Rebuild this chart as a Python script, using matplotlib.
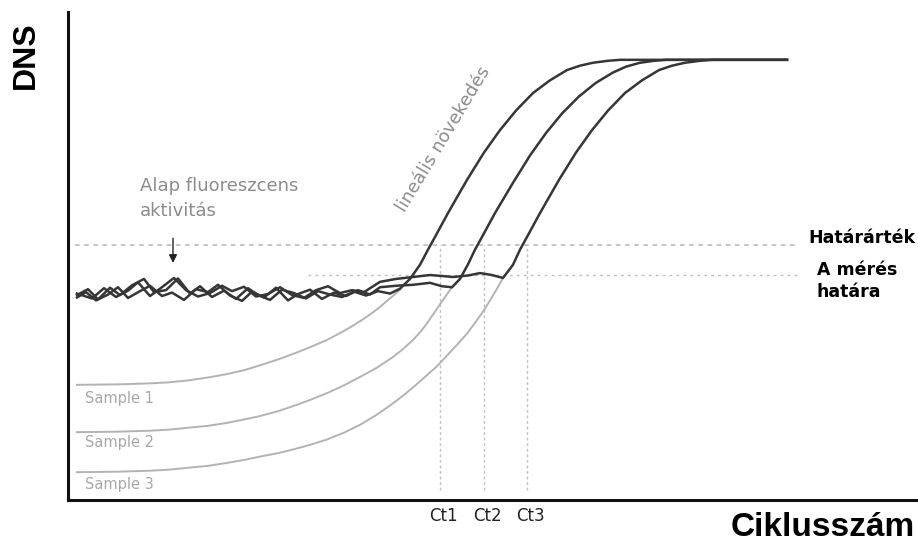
import matplotlib
matplotlib.use('Agg')
import matplotlib.pyplot as plt

# x: ciklus (arbitrary), y: DNS (arbitrary units, 0-100)
threshold = 52.3        # Határárték
detect_limit = 46.1     # A mérés határa
ct_values = [18.6, 20.8, 22.95]
ct_labels = ['Ct1', 'Ct2', 'Ct3']
sample_labels = ['Sample 1', 'Sample 2', 'Sample 3']
sample_label_y = [20.9, 11.7, 3.1]

# real signal below the background (light grey)
s1_low_x = [0.45, 2.5, 4.1, 5.0, 6.0, 7.0, 7.95, 8.8, 9.6, 10.5, 11.3, 12.1, 12.95,
            13.6, 14.2, 14.7, 15.1, 15.55, 15.95, 16.3, 16.6]
s1_low_y = [23.6, 23.7, 23.9, 24.1, 24.5, 25.1, 25.8, 26.6, 27.6, 28.8, 30.0, 31.3, 32.8,
            34.2, 35.6, 36.9, 38.0, 39.4, 40.8, 42.0, 43.1]
s2_low_x = [0.45, 2.5, 4.1, 5.0, 6.0, 7.0, 7.95, 8.8, 9.6, 10.5, 11.3, 12.1, 12.95, 13.7,
            14.5, 15.4, 16.25, 16.8, 17.3, 17.65, 17.95, 18.35, 18.75, 19.2]
s2_low_y = [13.9, 14.0, 14.2, 14.4, 14.8, 15.2, 15.8, 16.5, 17.2, 18.2, 19.3, 20.5, 21.9, 23.3,
            25.0, 27.0, 29.3, 31.1, 33.0, 34.6, 36.2, 38.6, 41.0, 43.6]
s3_low_x = [0.45, 2.5, 4.1, 5.0, 6.0, 7.0, 7.95, 8.8, 9.6, 10.5, 11.3, 12.1, 12.95, 13.8,
            14.6, 15.45, 16.25, 16.85, 17.4, 17.95, 18.45, 18.95, 19.45, 19.95, 20.35, 20.75,
            21.1, 21.45, 21.75]
s3_low_y = [5.7, 5.8, 6.0, 6.2, 6.6, 7.0, 7.6, 8.2, 8.9, 9.6, 10.4, 11.3, 12.4, 13.8,
            15.4, 17.5, 19.8, 21.7, 23.6, 25.6, 27.4, 29.6, 31.8, 34.1, 36.3, 38.6,
            40.9, 43.3, 45.5]

# measured signal: background noise
s1_noise_x = [0.45, 1.0, 1.5, 2.1, 2.6, 3.2, 3.8, 4.3, 4.9, 5.5, 6.1, 6.6, 7.2, 7.8, 8.4,
              9.0, 9.5, 10.1, 10.7, 11.3, 11.9, 12.5, 13.1, 13.7, 14.3, 14.9, 15.5, 16.1, 16.6]
s1_noise_y = [42.0, 43.2, 41.1, 43.5, 42.0, 44.0, 45.3, 42.6, 43.0, 45.4, 42.3, 43.8, 41.6, 42.9, 41.2,
              43.4, 42.0, 41.0, 43.1, 42.4, 41.3, 42.8, 42.1, 41.6, 42.7, 41.9, 42.8, 42.3, 43.3]
s2_noise_x = [0.45, 0.9, 1.4, 2.0, 2.5, 3.0, 3.6, 4.1, 4.7, 5.2, 5.8, 6.4, 7.0, 7.5, 8.1, 8.7,
              9.2, 9.8, 10.4, 11.0, 11.5, 12.1, 12.7, 13.3, 13.9, 14.5, 15.1, 15.6, 16.4, 17.25,
              18.1, 18.7, 19.2]
s2_noise_y = [41.5, 42.6, 40.9, 42.1, 43.6, 41.4, 42.8, 43.9, 41.8, 42.5, 41.0, 43.2, 42.6, 44.1, 41.9, 40.8,
              42.7, 41.5, 43.5, 40.9, 42.2, 43.1, 41.2, 42.5, 41.8, 43.0, 42.1, 43.6, 43.9, 44.1,
              44.5, 43.8, 43.6]
s3_noise_x = [0.45, 1.2, 1.8, 2.4, 3.0, 3.5, 4.1, 4.6, 5.3, 5.9, 6.5, 7.1, 7.7, 8.2, 8.8, 9.4,
              10.0, 10.6, 11.2, 11.8, 12.4, 13.0, 13.6, 14.2, 14.8, 15.6, 16.4, 17.25, 18.1, 18.7,
              19.25, 20.0, 20.6, 21.2, 21.75]
s3_noise_y = [42.3, 41.3, 43.4, 41.6, 42.9, 44.6, 41.8, 43.3, 45.5, 43.0, 41.7, 42.4, 43.9, 42.8, 43.7, 41.7,
              42.2, 43.6, 42.0, 41.4, 43.0, 43.8, 42.4, 43.0, 42.6, 44.7, 45.3, 45.7, 46.1, 45.9,
              45.7, 46.0, 46.5, 46.1, 45.5]

# measured signal: amplification and plateau
s1_rise_x = [17.1, 17.6, 18.0, 18.35, 19.0, 19.95, 20.8, 21.6, 22.4, 23.25, 24.1, 24.95, 25.6, 26.25,
             27.0, 27.6, 35.95]
s1_rise_y = [45.3, 48.2, 51.3, 53.9, 58.8, 65.6, 71.2, 75.8, 79.8, 83.4, 86.0, 88.1, 89.0, 89.6,
             90.0, 90.2, 90.2]
s2_rise_x = [19.6, 20.0, 20.35, 20.7, 21.35, 22.25, 23.1, 23.9, 24.7, 25.55, 26.4, 27.25, 27.9, 28.6,
             29.3, 29.9, 35.95]
s2_rise_y = [45.3, 48.3, 51.3, 53.9, 58.8, 65.0, 70.6, 75.2, 79.2, 82.7, 85.5, 87.6, 88.8, 89.6,
             90.0, 90.2, 90.2]
s3_rise_x = [22.25, 22.6, 22.95, 23.6, 24.55, 25.4, 26.2, 27.0, 27.85, 28.7, 29.55, 30.2, 30.85,
             31.6, 32.2, 35.95]
s3_rise_y = [48.2, 51.3, 53.9, 58.8, 65.6, 71.2, 75.8, 79.8, 83.4, 86.0, 88.1, 89.0, 89.6,
             90.0, 90.2, 90.2]

fig = plt.figure(figsize=(9.18, 5.44), dpi=100)
ax = fig.add_axes([68 / 918, 44 / 544, 850 / 918, 488 / 544])
ax.set_xlim(0, 42.5)
ax.set_ylim(0, 100)
for side in ['top', 'right']:
    ax.spines[side].set_visible(False)
for side in ['left', 'bottom']:
    ax.spines[side].set_linewidth(2.2)
    ax.spines[side].set_color('#111111')
ax.set_xticks([])
ax.set_yticks([])

# threshold lines
ax.plot([0.35, 36.5], [threshold, threshold], color='#b5b5b5', lw=1.1, ls=(0, (3, 3)))
ax.plot([12.0, 36.6], [detect_limit, detect_limit], color='#c0c0c0', lw=1.0, ls=(0, (2, 3)))
for ct in ct_values:
    ax.plot([ct, ct], [2.0, threshold], color='#c0c0c0', lw=1.0, ls=(0, (2, 2)))

# grey (hidden) part of the curves
light = '#b3b3b3'
ax.plot(s1_low_x, s1_low_y, color=light, lw=1.4)
ax.plot(s2_low_x, s2_low_y, color=light, lw=1.4)
ax.plot(s3_low_x, s3_low_y, color=light, lw=1.4)

# measured curves
dark = '#363636'
ax.plot(s3_noise_x + s3_rise_x, s3_noise_y + s3_rise_y, color=dark, lw=1.8, solid_joinstyle='round')
ax.plot(s2_noise_x + s2_rise_x, s2_noise_y + s2_rise_y, color=dark, lw=1.8, solid_joinstyle='round')
ax.plot(s1_noise_x + s1_rise_x, s1_noise_y + s1_rise_y, color=dark, lw=1.8, solid_joinstyle='round')

# texts
grey_txt = '#8c8c8c'
ax.text(3.6, 64.3, 'Alap fluoreszcens', color=grey_txt, fontsize=13, va='center', ha='left')
ax.text(3.6, 59.2, 'aktivitás', color=grey_txt, fontsize=13, va='center', ha='left')
ax.annotate('', xy=(5.25, 48.0), xytext=(5.25, 54.2),
            arrowprops=dict(arrowstyle='-|>', color='#222222', lw=1.0, mutation_scale=12))
ax.text(18.75, 74.0, 'lineális növekedés', color=grey_txt, fontsize=13, rotation=59,
        ha='center', va='center', rotation_mode='anchor')

for lab, yy in zip(sample_labels, sample_label_y):
    ax.text(0.85, yy, lab, color='#a8a8a8', fontsize=10.5, va='center', ha='left')

for ct, lab in zip(ct_values, ct_labels):
    ax.text(ct + 0.15, -3.3, lab, color='#222222', fontsize=12, ha='center', va='center', clip_on=False)

ax.text(37.0, 53.6, 'Határárték', fontsize=12.5, fontweight='bold', ha='left', va='center', clip_on=False)
ax.text(37.45, 47.1, 'A mérés', fontsize=12.5, fontweight='bold', ha='left', va='center', clip_on=False)
ax.text(37.45, 42.6, 'határa', fontsize=12.5, fontweight='bold', ha='left', va='center', clip_on=False)

ax.text(-2.1, 91.2, 'DNS', family='Liberation Sans', fontsize=23, fontweight='bold',
        rotation=90, ha='center', va='center', clip_on=False)
ax.text(42.35, -5.6, 'Ciklusszám', family='Liberation Sans', fontsize=24, fontweight='bold',
        ha='right', va='center', clip_on=False)

fig.savefig('out.png', dpi=100)
